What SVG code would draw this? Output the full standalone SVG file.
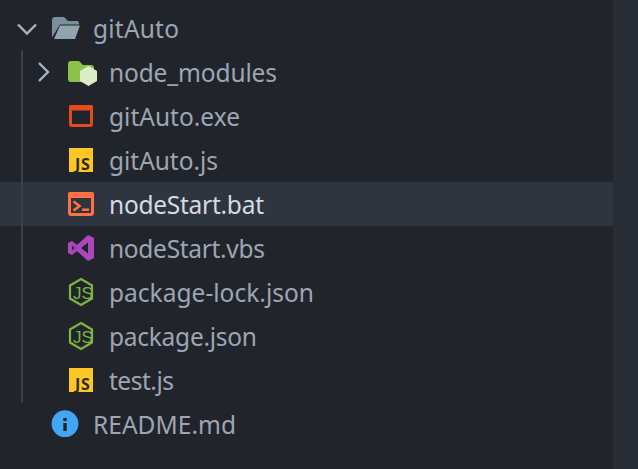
<svg xmlns="http://www.w3.org/2000/svg" width="638" height="469" viewBox="0 0 638 469">
<style>
text{font-family:"Noto Sans","Open Sans","Liberation Sans",sans-serif;font-size:24.500px;fill:#9da5b4}
.chev{fill:none;stroke:#a9b4c2;stroke-width:2.400}
.js{fill:#fcc624}
text.jst{font-size:16px;font-weight:700;fill:#2b2a1f;letter-spacing:.8px}
.nh{fill:none;stroke:#7cb342;stroke-width:2.200}
text.nt{font-family:"Liberation Sans",sans-serif;font-size:17px;fill:#7cb342}
</style>
<rect width="638" height="469" fill="#21252b"/>
<rect x="613" width="25" height="469" fill="#282c34"/>
<rect y="182" width="613" height="44" fill="#2f353f"/>
<rect x="21" y="50" width="2" height="352" fill="#3b3f46"/>
<g id="connectors"></g>
<g id="gitAuto"><path class="chev" d="M18 24.500L27 33.500L36 24.500"/>
<path d="M52 20a3 3 0 0 1 3-3h9l4 4h9a2 2 0 0 1 2 2V24.500H60l-8 13z" fill="#78909c"/><path d="M54 39l6-13.500H80l-5 13.500z" fill="#90a4ae"/>
<text x="93" y="38" textLength="86">gitAuto</text></g>
<g id="node_modules"><path class="chev" d="M39 63L48 72L39 81"/>
<path d="M68 64a3 3 0 0 1 3-3h8l4 4h8a3 3 0 0 1 3 3v11a3 3 0 0 1-3 3H71a3 3 0 0 1-3-3z" fill="#8bc34a"/>
<path d="M88.500 66l8.500 5v10l-8.500 5-8.500-5v-10z" fill="#dcedc8"/>
<text x="109" y="82" textLength="168">node_modules</text></g>
<g id="gitAuto-exe"><rect x="70.500" y="106.500" width="21" height="19" rx="1.500" fill="none" stroke="#e64a19" stroke-width="3"/><rect x="69" y="105" width="24" height="5.500" rx="1.500" fill="#e64a19"/>
<text x="109" y="126" textLength="131">gitAuto.exe</text></g>
<g id="gitAuto-js"><rect class="js" x="69" y="148" width="24" height="24"/><text class="jst" x="75" y="170">JS</text>
<text x="109" y="170" textLength="109">gitAuto.js</text></g>
<g id="nodeStart-bat"><rect x="69.500" y="193.500" width="23" height="21" rx="2" fill="none" stroke="#ff7043" stroke-width="3"/><rect x="68" y="192" width="26" height="6" rx="2" fill="#ff7043"/>
<path d="M73.500 201.500l6 4.500-6 4.500" fill="none" stroke="#ff7043" stroke-width="2.600"/><rect x="82" y="208.500" width="7" height="2.500" fill="#ff7043"/>
<text x="109" y="214" textLength="155" style="fill:#d7dae0">nodeStart.bat</text></g>
<g id="nodeStart-vbs"><path d="M88 235L94 238V258L88 261L77 251L72 255L68 253V243L72 241L77 245Z M72 245.500V250.500L75 248Z M88 242.500L81 248L88 253.500Z" fill="#ab47bc" fill-rule="evenodd"/>
<text x="109" y="258" textLength="156">nodeStart.vbs</text></g>
<g id="package-lock"><path class="nh" d="M81 279l11 6.500v13l-11 6.500-11-6.500v-13z"/><text class="nt" x="73" y="298.500">JS</text>
<text x="109" y="302" textLength="205">package-lock.json</text></g>
<g id="package"><path class="nh" d="M81 323l11 6.500v13l-11 6.500-11-6.500v-13z"/><text class="nt" x="73" y="342.500">JS</text>
<text x="109" y="346" textLength="148">package.json</text></g>
<g id="test-js"><rect class="js" x="69" y="368" width="24" height="24"/><text class="jst" x="75" y="390">JS</text>
<text x="109" y="390" textLength="65">test.js</text></g>
<g id="readme"><circle cx="65" cy="423.700" r="13.400" fill="#42a5f5"/><rect x="63.300" y="423" width="3.400" height="8" fill="#21252b"/><rect x="63.300" y="418" width="3.400" height="3" fill="#21252b"/>
<text x="93" y="434" textLength="143">README.md</text></g>
</svg>
